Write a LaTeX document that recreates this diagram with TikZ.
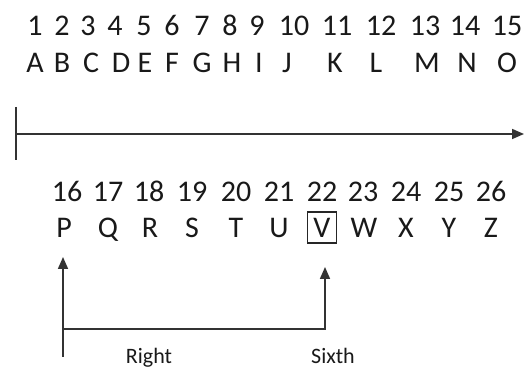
\documentclass[tikz,border=0pt]{standalone}
\usepackage{fontspec}
\setmainfont{Carlito}
\usetikzlibrary{arrows.meta}
\begin{document}
\begin{tikzpicture}[x=1pt,y=-1pt,
  big/.style={font=\fontsize{30}{32}\selectfont,anchor=base,inner sep=0pt,text=black!90},
  lbl/.style={font=\fontsize{22}{24}\selectfont,anchor=base,inner sep=0pt,text=black!90},
  ln/.style={line width=1.7pt,draw=black!80},
  tip/.style={-{Triangle[length=12pt,width=10pt]}}]
\useasboundingbox (0,0) rectangle (531,371);
% top row numbers
\foreach \x/\t [count=\i] in {35/1,62/2,88/3,115/4,144/5,172/6,202/7,230/8,257/9,294/10,337/11,381/12,425/13,465/14,507/15}
  \node[big] (n\i) at (\x,35.5) {\t};
\foreach \x/\t in {35/A,62/B,91/C,121/D,145/E,172/F,202/G,232/H,259/I,287/J,335/K,376/L,427/M,467/N,507/O}
  \node[big] (l\t) at (\x,72.5) {\t};
% main line
\coordinate (t1) at (16,107);
\coordinate (t2) at (16,160);
\coordinate (h1) at (16,134);
\coordinate (h2) at (524,134);
\draw[ln] (t1) -- (t2);
\draw[ln,tip] (h1) -- (h2);
% bottom row
\foreach \x/\t in {67/16,108/17,149/18,192/19,236/20,279/21,322/22,363/23,406/24,449/25,491/26}
  \node[big] (n\t) at (\x,201.5) {\t};
\foreach \x/\t in {64/P,108/Q,150/R,192/S,236/T,279/U,322/V,364/W,406/X,449/Y,491/Z}
  \node[big] (l\t) at (\x,237.5) {\t};
\node[draw=black!85,line width=1.2pt,minimum width=29pt,minimum height=31pt,inner sep=0pt] (vbox) at (322,227.5) {};
% arrows
\coordinate (a1) at (63,357);
\coordinate (a1t) at (63,257);
\coordinate (a2) at (63,329);
\coordinate (a2t) at (325,267);
\draw[ln,tip] (a1) -- (a1t);
\draw[ln,tip] (a2) -| (a2t);
\node[lbl] (right) at (149,364) {Right};
\node[lbl] (sixth) at (333,364) {Sixth};
\end{tikzpicture}
\end{document}
